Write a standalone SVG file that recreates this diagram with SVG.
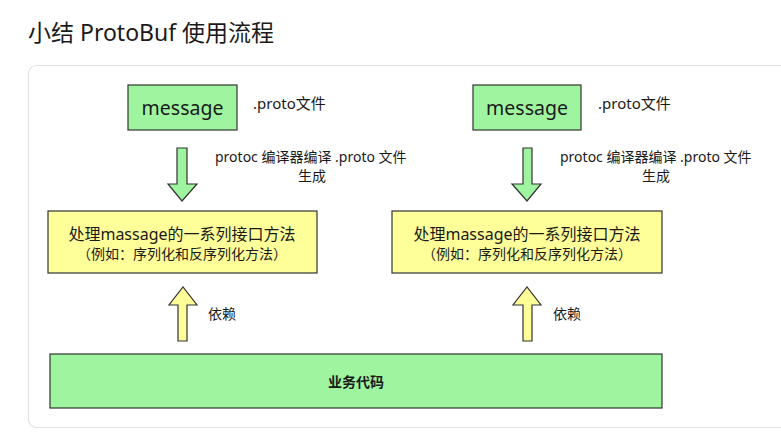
<svg xmlns="http://www.w3.org/2000/svg" width="781" height="435" viewBox="0 0 781 435">
<style>
text{font-family:"Noto Sans","Noto Sans CJK SC",sans-serif;fill:#1a1a1a}
.g{fill:#9ff59f;stroke:#333;stroke-width:1.2}
.y{fill:#ffff99;stroke:#333;stroke-width:1.2}
.lbl{font-size:14px}
.c{text-anchor:middle}
</style>
<rect width="781" height="435" fill="#ffffff"/>
<text x="28" y="41" font-size="23">小结 ProtoBuf 使用流程</text>
<rect x="28.5" y="65.5" width="760" height="362" rx="8" fill="#ffffff" stroke="#e2e2e2" stroke-width="1.2"/>
<g id="message1">
<rect class="g" x="128" y="85" width="109" height="45"/>
<text class="c" x="182.5" y="115" font-size="19.5">message</text>
<text x="253" y="109" font-size="15">.proto文件</text>
</g>
<g id="message2">
<rect class="g" x="473" y="85" width="108" height="45"/>
<text class="c" x="527" y="115" font-size="19.5">message</text>
<text x="598" y="109" font-size="15">.proto文件</text>
</g>
<g id="methods1">
<rect class="y" x="48" y="211" width="269" height="62"/>
<text class="c" x="182" y="240" font-size="16">处理massage的一系列接口方法</text>
<text class="c" x="182" y="259" font-size="14">（例如：序列化和反序列化方法）</text>
</g>
<g id="methods2">
<rect class="y" x="392" y="211" width="270" height="62"/>
<text class="c" x="527" y="240" font-size="16">处理massage的一系列接口方法</text>
<text class="c" x="527" y="259" font-size="14">（例如：序列化和反序列化方法）</text>
</g>
<g id="business">
<rect class="g" x="50" y="354" width="612" height="54"/>
<text class="c" x="356" y="387" font-size="14" font-weight="bold">业务代码</text>
</g>
<g id="connectors">
<path class="g" d="M177,148 H187 V184 H197 L182,201 L168,184 H177 Z"/>
<path class="g" d="M523,148 H532 V184 H541 L527,201 L512,184 H523 Z"/>
<path class="y" d="M178,341 V305 H169 L183,287 L197,305 H187 V341 Z"/>
<path class="y" d="M523,341 V305 H513 L527,287 L541,305 H532 V341 Z"/>
<text class="lbl" x="215" y="162">protoc 编译器编译 .proto 文件</text>
<text class="lbl c" x="312" y="181">生成</text>
<text class="lbl" x="560" y="162">protoc 编译器编译 .proto 文件</text>
<text class="lbl c" x="656" y="181">生成</text>
<text class="lbl" x="208" y="319">依赖</text>
<text class="lbl" x="553" y="319">依赖</text>
</g>
</svg>
